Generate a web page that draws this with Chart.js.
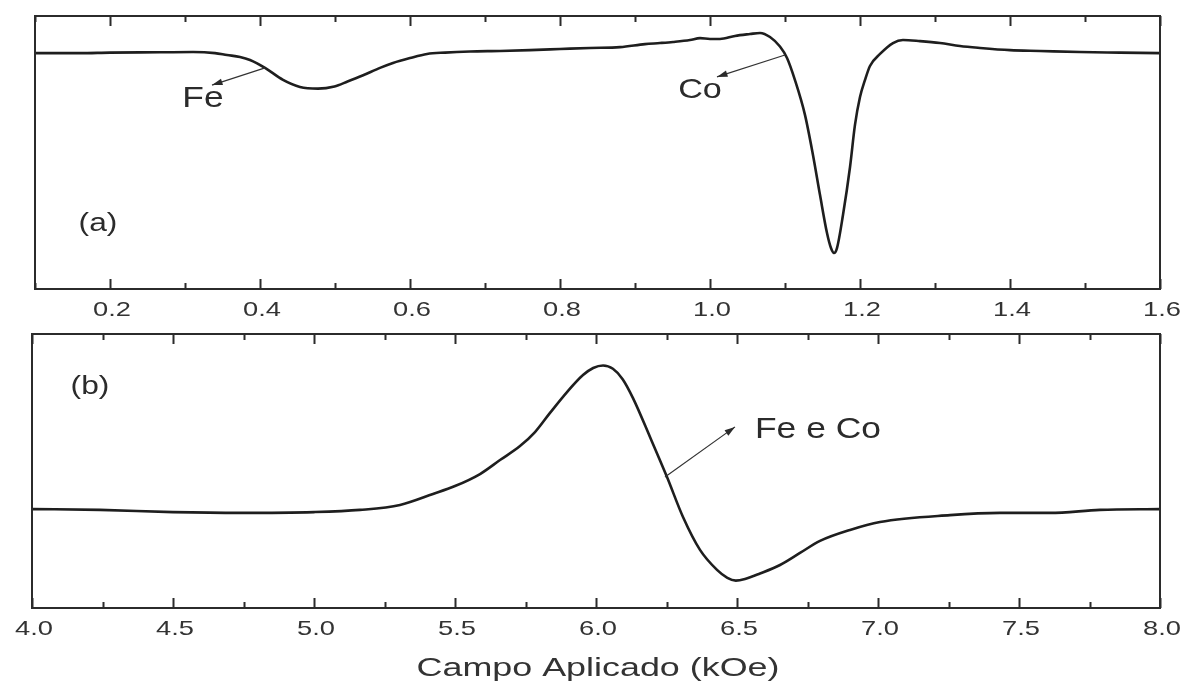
<!DOCTYPE html>
<html>
<head>
<meta charset="utf-8">
<script src="https://cdn.jsdelivr.net/npm/chart.js@4.4.0/dist/chart.umd.min.js"></script>
<style>
  body { margin: 0; background: #fff; }
  .panel { position: absolute; left: 0; width: 1186px; }
  #boxA { top: 0; height: 325px; }
  #boxB { top: 325px; height: 360px; }
</style>
</head>
<body>
<div class="panel" id="boxA"><canvas id="chartA"></canvas></div>
<div class="panel" id="boxB"><canvas id="chartB"></canvas></div>
<script>
// panel (a): low field (arb. units 0..100)
const fieldA = [0.1, 0.16, 0.2, 0.2667, 0.3107, 0.34, 0.356, 0.3733, 0.3867, 0.4067, 0.4307, 0.4533, 0.4773, 0.4993, 0.5167, 0.5367, 0.56, 0.5773, 0.6, 0.6227, 0.6467, 0.68, 0.72, 0.76, 0.8, 0.84, 0.88, 0.9133, 0.9333, 0.9507, 0.9733, 0.9867, 1.0, 1.0133, 1.0333, 1.0533, 1.0667, 1.08, 1.0933, 1.1027, 1.1133, 1.1267, 1.1373, 1.1467, 1.156, 1.1613, 1.1653, 1.1693, 1.1773, 1.1867, 1.1933, 1.2, 1.2067, 1.2133, 1.2267, 1.244, 1.2573, 1.28, 1.3067, 1.3333, 1.36, 1.4, 1.44, 1.4933, 1.5467, 1.6];
const signalA = [86.4, 86.4, 86.6, 86.7, 86.8, 86.4, 85.7, 85.0, 83.9, 81.0, 76.6, 74.0, 73.4, 74.2, 76.0, 78.2, 81.0, 82.8, 84.6, 86.1, 86.6, 87.0, 87.2, 87.5, 87.9, 88.3, 88.6, 89.7, 90.1, 90.5, 91.2, 91.9, 91.6, 91.6, 92.7, 93.4, 93.8, 92.3, 88.8, 84.6, 76.5, 63.7, 49.1, 34.4, 20.5, 15.0, 13.2, 15.0, 27.1, 44.7, 60.1, 70.3, 76.6, 81.7, 86.1, 90.1, 91.2, 90.8, 90.1, 89.0, 88.3, 87.5, 87.2, 86.8, 86.6, 86.4];

// panel (b): high field
const fieldB = [4.0, 4.2411, 4.5, 4.7376, 5.0, 5.1631, 5.305, 5.422, 5.5, 5.5887, 5.6596, 5.7305, 5.7837, 5.8369, 5.8972, 5.9539, 5.99, 6.025, 6.06, 6.0945, 6.1312, 6.1915, 6.2518, 6.3085, 6.3688, 6.4291, 6.4658, 6.4958, 6.5284, 6.5816, 6.6525, 6.7234, 6.7943, 6.9007, 7.0071, 7.2553, 7.4326, 7.6099, 7.7872, 8.0];
const signalB = [36.1, 35.8, 35.0, 34.7, 35.0, 35.8, 37.6, 41.6, 44.5, 48.9, 54.0, 59.1, 64.2, 71.2, 78.8, 85.0, 87.6, 88.5, 87.3, 83.5, 76.6, 62.4, 47.8, 33.2, 21.2, 13.9, 11.0, 10.0, 10.6, 12.6, 15.7, 20.1, 24.5, 28.5, 31.4, 33.9, 34.7, 34.7, 35.8, 36.1];

const majorTicksA = [0.2, 0.4, 0.6, 0.8, 1.0, 1.2, 1.4, 1.6];
const minorTicksA = [0.1, 0.3, 0.5, 0.7, 0.9, 1.1, 1.3, 1.5];
const majorTicksB = [4.0, 4.5, 5.0, 5.5, 6.0, 6.5, 7.0, 7.5, 8.0];
const minorTicksB = [4.25, 4.75, 5.25, 5.75, 6.25, 6.75, 7.25, 7.75];

const xTitle = "Campo Aplicado (kOe)";

// annotations, in data units of each panel
const notesA = [
  { text: "Fe", x: 0.324, y: 69.6, size: 29, arrow: [0.4067, 81.0, 0.336, 74.7] },
  { text: "Co", x: 0.9867, y: 72.9, size: 28, arrow: [1.1, 85.7, 1.0093, 77.7] },
  { text: "(a)", x: 0.184, y: 23.8, size: 26 }
];
const notesB = [
  { text: "Fe e Co", x: 6.787, y: 65.0, size: 29, arrow: [6.2447, 47.8, 6.4929, 66.1] },
  { text: "(b)", x: 4.2057, y: 80.7, size: 26 }
];

const ink = "#2b2b2b";
const fontFam = "'Liberation Sans', Arial, sans-serif";

function toPoints(xs, ys) {
  return xs.map((x, i) => ({ x: x, y: ys[i] }));
}

// the source figure is stretched sideways, so text is widened too
function wideText(ctx, text, x, y, size, stretch) {
  ctx.save();
  ctx.font = size + "px " + fontFam;
  ctx.translate(x, y);
  ctx.scale(stretch, 1);
  ctx.fillText(text, 0, 0);
  ctx.restore();
}

function arrowHead(ctx, x1, y1, x2, y2) {
  const ang = Math.atan2(y2 - y1, x2 - x1);
  const len = 11, w = 0.3;
  ctx.beginPath();
  ctx.moveTo(x2, y2);
  ctx.lineTo(x2 - len * Math.cos(ang - w), y2 - len * Math.sin(ang - w));
  ctx.lineTo(x2 - len * Math.cos(ang + w), y2 - len * Math.sin(ang + w));
  ctx.closePath();
  ctx.fill();
}

// frame, inward ticks on top and bottom, tick labels, title and notes
const framePlugin = {
  id: "frame",
  afterDatasetsDraw(chart, args, opts) {
    const { ctx, chartArea: a } = chart;
    const xs = chart.scales.x, ys = chart.scales.y;
    ctx.save();
    ctx.strokeStyle = ink;
    ctx.lineWidth = 2;
    ctx.strokeRect(a.left, a.top, a.right - a.left, a.bottom - a.top);
    const tick = (v, len) => {
      const px = Math.round(xs.getPixelForValue(v)) + 0.5;
      ctx.beginPath();
      ctx.moveTo(px, a.bottom); ctx.lineTo(px, a.bottom - len);
      ctx.moveTo(px, a.top); ctx.lineTo(px, a.top + len);
      ctx.stroke();
    };
    opts.major.forEach(v => tick(v, 10));
    opts.minor.forEach(v => tick(v, 6));

    ctx.fillStyle = "#333";
    ctx.textAlign = "center";
    ctx.textBaseline = "middle";
    opts.major.forEach(v => {
      wideText(ctx, v.toFixed(1), xs.getPixelForValue(v) + 2, a.bottom + 21, 21, 1.3);
    });
    if (opts.title) {
      wideText(ctx, opts.title, (a.left + a.right) / 2 + 2, a.bottom + 61, 26, 1.38);
    }

    ctx.fillStyle = ink;
    ctx.strokeStyle = "#333";
    opts.notes.forEach(n => {
      wideText(ctx, n.text, xs.getPixelForValue(n.x), ys.getPixelForValue(n.y), n.size, 1.22);
      if (n.arrow) {
        const x1 = xs.getPixelForValue(n.arrow[0]), y1 = ys.getPixelForValue(n.arrow[1]);
        const x2 = xs.getPixelForValue(n.arrow[2]), y2 = ys.getPixelForValue(n.arrow[3]);
        ctx.lineWidth = 1.2;
        ctx.beginPath();
        ctx.moveTo(x1, y1); ctx.lineTo(x2, y2);
        ctx.stroke();
        arrowHead(ctx, x1, y1, x2, y2);
      }
    });
    ctx.restore();
  }
};

function buildPanel(id, xs, ys, xmin, xmax, major, minor, notes, pad, axisHeight, title) {
  new Chart(document.getElementById(id), {
    type: "line",
    data: {
      datasets: [{
        data: toPoints(xs, ys),
        borderColor: "#1e1e1e",
        borderWidth: 2.6,
        pointRadius: 0,
        tension: 0.4,
        cubicInterpolationMode: "monotone",
        fill: false
      }]
    },
    options: {
      responsive: true,
      maintainAspectRatio: false,
      animation: false,
      events: [],
      layout: { padding: pad },
      plugins: {
        legend: { display: false },
        tooltip: { enabled: false },
        frame: { major: major, minor: minor, notes: notes, title: title }
      },
      scales: {
        x: {
          type: "linear",
          min: xmin,
          max: xmax,
          grid: { display: false, drawTicks: false },
          border: { display: false },
          afterBuildTicks: s => { s.ticks = major.map(v => ({ value: v })); },
          afterFit: s => { s.height = axisHeight; },
          ticks: { display: false }
        },
        y: { display: false, min: 0, max: 100 }
      }
    },
    plugins: [framePlugin]
  });
}

buildPanel("chartA", fieldA, signalA, 0.1, 1.6, majorTicksA, minorTicksA, notesA,
  { left: 35, right: 26, top: 16, bottom: 0 }, 36, null);
buildPanel("chartB", fieldB, signalB, 4.0, 8.0, majorTicksB, minorTicksB, notesB,
  { left: 32, right: 26, top: 9, bottom: 0 }, 77, xTitle);
</script>
</body>
</html>
